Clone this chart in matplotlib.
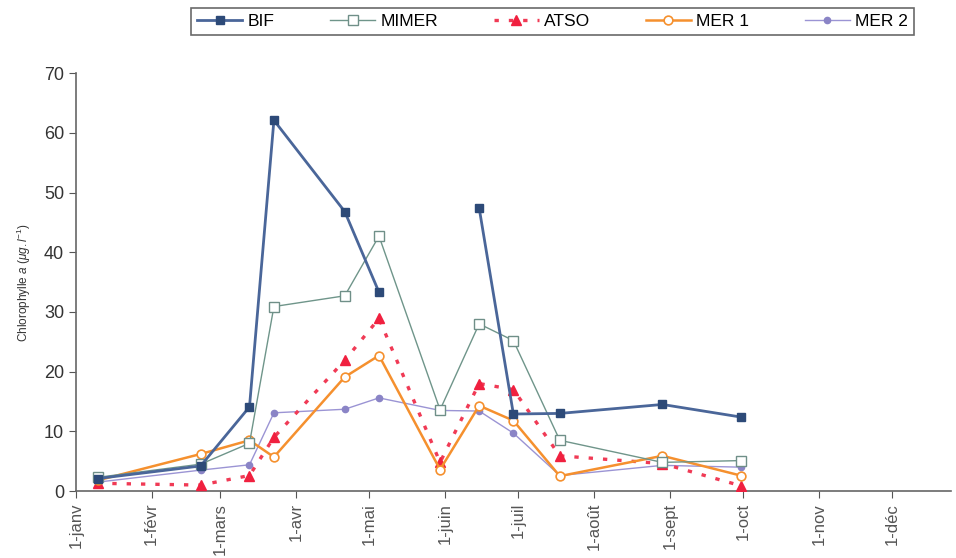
import numpy as np
import matplotlib
matplotlib.use('Agg')
import matplotlib.pyplot as plt
import matplotlib.dates as mdates
from datetime import date

plt.rcParams['font.family'] = ['Liberation Sans', 'DejaVu Sans']
plt.rcParams['mathtext.fontset'] = 'custom'
plt.rcParams['mathtext.it'] = 'Liberation Sans:italic'
plt.rcParams['mathtext.rm'] = 'Liberation Sans'

# sampling dates
dates = [date(2001, 1, 10), date(2001, 2, 21), date(2001, 3, 13), date(2001, 3, 23),
         date(2001, 4, 21), date(2001, 5, 5), date(2001, 5, 30), date(2001, 6, 15),
         date(2001, 6, 29), date(2001, 7, 18), date(2001, 8, 29), date(2001, 9, 30)]

bif = [2.1, 4.2, 14.1, 62.1, 46.8, 33.3, np.nan, 47.4, 12.9, 13.0, 14.5, 12.4]
mimer = [2.3, 4.5, 8.0, 30.9, 32.7, 42.7, 13.6, 28.0, 25.2, 8.5, 4.8, 5.1]
atso = [1.3, 1.0, 2.6, 9.0, 21.9, 28.9, 4.8, 18.0, 17.0, 5.9, 4.6, 0.9]
mer1 = [1.8, 6.2, 8.5, 5.7, 19.1, 22.7, 3.6, 14.3, 11.8, 2.5, 5.9, 2.6]
mer2 = [1.5, 3.5, 4.4, 13.1, 13.7, 15.6, 13.5, 13.4, 9.7, 2.6, 4.3, 4.0]

month_labels = ['1-janv', '1-févr', '1-mars', '1-avr', '1-mai', '1-juin',
                '1-juil', '1-août', '1-sept', '1-oct', '1-nov', '1-déc']
month_ticks = [date(2001, m, 1) for m in range(1, 13)]

fig = plt.figure(figsize=(9.56, 5.58), dpi=100)
ax = fig.add_axes([0.0795, 0.12, 0.915, 0.749])

ax.plot(dates, mer2, color='#9b94d4', lw=1.0, marker='o', ms=4.5,
        mfc='#8a84c6', mec='#8a84c6', label='MER 2', zorder=2)
ax.plot(dates, atso, color='#f03a55', lw=2.4, ls=(0, (1.3, 3.0)), marker='^', ms=6.5,
        mfc='#f0203f', mec='#f0203f', label='ATSO', zorder=3)
ax.plot(dates, mer1, color='#f5902e', lw=1.8, marker='o', ms=6.3,
        mfc='white', mec='#f5902e', mew=1.2, label='MER 1', zorder=4)
ax.plot(dates, mimer, color='#6f958a', lw=1.0, marker='s', ms=6.8,
        mfc='white', mec='#6f8f88', mew=1.0, label='MIMER', zorder=5)
ax.plot(dates, bif, color='#4a6699', lw=2.0, marker='s', ms=5.6,
        mfc='#2d4a78', mec='#2d4a78', label='BIF', zorder=6)

ax.set_ylim(0, 70)
ax.set_yticks(range(0, 71, 10))
ax.set_xlim(mdates.date2num(date(2001, 1, 1)), mdates.date2num(date(2001, 12, 25)))
ax.set_xticks(mdates.date2num(month_ticks))
ax.set_xticklabels(month_labels, rotation=90, fontsize=12, color='#222222')
ax.tick_params(axis='y', labelsize=13, colors='#555555', labelcolor='#333333', length=5)
ax.tick_params(axis='x', colors='#555555', length=5)

for s in ['top', 'right']:
    ax.spines[s].set_visible(False)
for s in ['left', 'bottom']:
    ax.spines[s].set_color('#666666')
    ax.spines[s].set_linewidth(1.2)

ax.set_ylabel(r'Chlorophylle $a$ ($\mu g.l^{-1}$)', fontsize=8.5, color='#333333', labelpad=8)

handles, labels = ax.get_legend_handles_labels()
order = ['BIF', 'MIMER', 'ATSO', 'MER 1', 'MER 2']
hmap = dict(zip(labels, handles))
leg = fig.legend([hmap[k] for k in order], order, loc='lower left',
                 bbox_to_anchor=(0.191, 0.921, 0.774, 0.057), mode='expand', ncol=5,
                 fontsize=12.5, frameon=True, fancybox=False, numpoints=1,
                 handlelength=2.6, borderpad=0.35, handletextpad=0.3)
leg.get_frame().set_edgecolor('#444444')
leg.get_frame().set_linewidth(1.2)

fig.savefig('out.png', dpi=100)
